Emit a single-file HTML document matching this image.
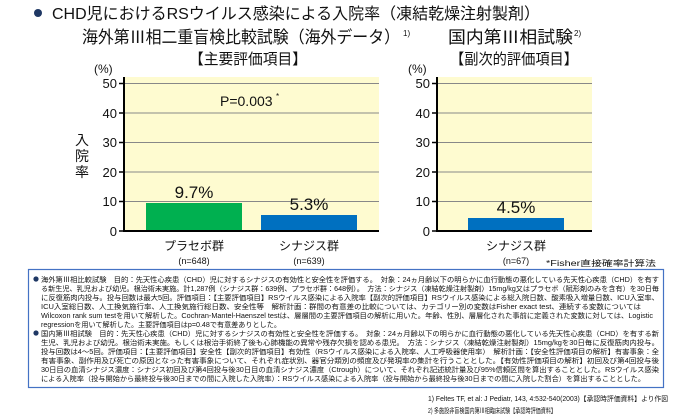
<!DOCTYPE html>
<html><head><meta charset="utf-8"><style>
html,body{margin:0;padding:0;background:#fff;width:685px;height:416px;overflow:hidden}
svg{display:block}
text{font-family:"Liberation Sans","Noto Sans CJK JP",sans-serif;fill:#111}
</style></head><body>
<svg width="685" height="416" viewBox="0 0 685 416">
<circle cx="38" cy="13" r="4" fill="#1f3864"/>
<text x="52" y="19" font-size="16" textLength="488" lengthAdjust="spacingAndGlyphs">CHD児におけるRSウイルス感染による入院率（凍結乾燥注射製剤）</text>
<text x="82" y="43" font-size="17" textLength="318" lengthAdjust="spacingAndGlyphs">海外第Ⅲ相二重盲検比較試験（海外データ）</text>
<text x="403" y="36" font-size="8">1)</text>
<text x="448" y="43" font-size="17" textLength="125" lengthAdjust="spacingAndGlyphs">国内第Ⅲ相試験</text>
<text x="574" y="36" font-size="8">2)</text>
<text x="189" y="64" font-size="15" textLength="118" lengthAdjust="spacingAndGlyphs">【主要評価項目】</text>
<text x="450" y="64" font-size="15" textLength="128" lengthAdjust="spacingAndGlyphs">【副次的評価項目】</text>
<text x="94" y="73" font-size="12">(%)</text>
<text x="408" y="73" font-size="12">(%)</text>
<!-- left chart -->
<rect x="124" y="77" width="255" height="154" fill="#fefbd0"/>
<g stroke="#888" stroke-width="1">
<line x1="124" x2="379" y1="83.5" y2="83.5"/><line x1="124" x2="379" y1="113" y2="113"/>
<line x1="124" x2="379" y1="142.5" y2="142.5"/><line x1="124" x2="379" y1="172" y2="172"/>
<line x1="124" x2="379" y1="201.5" y2="201.5"/>
</g>
<rect x="146" y="203" width="96" height="28" fill="#00b050"/>
<rect x="261" y="215" width="96" height="16" fill="#0070c0"/>
<line x1="124" y1="231" x2="379" y2="231" stroke="#000" stroke-width="2"/>
<line x1="124" y1="77" x2="124" y2="232" stroke="#000" stroke-width="2"/>
<g stroke="#000" stroke-width="1.5"><line x1="119" x2="124" y1="83.5" y2="83.5"/><line x1="119" x2="124" y1="113" y2="113"/><line x1="119" x2="124" y1="142.5" y2="142.5"/><line x1="119" x2="124" y1="172" y2="172"/><line x1="119" x2="124" y1="201.5" y2="201.5"/><line x1="119" x2="124" y1="231" y2="231"/></g>
<g font-size="13" text-anchor="end">
<text x="117" y="88">50</text><text x="117" y="118">40</text><text x="117" y="147">30</text><text x="117" y="177">20</text><text x="117" y="206">10</text><text x="117" y="236">0</text>
</g>
<g font-size="14" text-anchor="middle"><text x="82" y="145">入</text><text x="82" y="161">院</text><text x="82" y="177">率</text></g>
<text x="220" y="106" font-size="14">P=0.003</text><text x="276" y="99" font-size="8">*</text>
<text x="194" y="198" font-size="17" text-anchor="middle">9.7%</text>
<text x="309" y="210" font-size="17" text-anchor="middle">5.3%</text>
<!-- right chart -->
<rect x="437" y="77" width="155" height="154" fill="#fefbd0"/>
<g stroke="#888" stroke-width="1">
<line x1="437" x2="592" y1="83.5" y2="83.5"/><line x1="437" x2="592" y1="113" y2="113"/>
<line x1="437" x2="592" y1="142.5" y2="142.5"/><line x1="437" x2="592" y1="172" y2="172"/>
<line x1="437" x2="592" y1="201.5" y2="201.5"/>
</g>
<rect x="468" y="218" width="96" height="13" fill="#0070c0"/>
<line x1="437" y1="231" x2="592" y2="231" stroke="#000" stroke-width="2"/>
<line x1="437" y1="77" x2="437" y2="232" stroke="#000" stroke-width="2"/>
<g stroke="#000" stroke-width="1.5"><line x1="432" x2="437" y1="83.5" y2="83.5"/><line x1="432" x2="437" y1="113" y2="113"/><line x1="432" x2="437" y1="142.5" y2="142.5"/><line x1="432" x2="437" y1="172" y2="172"/><line x1="432" x2="437" y1="201.5" y2="201.5"/><line x1="432" x2="437" y1="231" y2="231"/></g>
<g font-size="13" text-anchor="end">
<text x="430" y="88">50</text><text x="430" y="118">40</text><text x="430" y="147">30</text><text x="430" y="177">20</text><text x="430" y="206">10</text><text x="430" y="236">0</text>
</g>
<text x="516" y="213" font-size="17" text-anchor="middle">4.5%</text>
<!-- categories -->
<g font-size="12" text-anchor="middle">
<text x="194" y="250">プラセボ群</text><text x="309" y="250">シナジス群</text><text x="516" y="250">シナジス群</text>
</g>
<g font-size="9" text-anchor="middle"><text x="194" y="264">(n=648)</text><text x="309" y="264">(n=639)</text><text x="516" y="264">(n=67)</text></g>
<text x="546" y="266" font-size="8" textLength="110" lengthAdjust="spacingAndGlyphs">*Fisher直接確率計算法</text>
<!-- box -->
<rect x="28.5" y="269.5" width="635" height="118" fill="none" stroke="#4472c4" stroke-width="1.2"/>
<g font-size="7">
<circle cx="36" cy="279" r="2.6" fill="#1f3864"/>
<text x="41" y="282" textLength="618" lengthAdjust="spacingAndGlyphs">海外第Ⅲ相比較試験　目的：先天性心疾患（CHD）児に対するシナジスの有効性と安全性を評価する。　対象：24ヵ月齢以下の明らかに血行動態の悪化している先天性心疾患（CHD）を有す</text>
<text x="41" y="291" textLength="618" lengthAdjust="spacingAndGlyphs">る新生児、乳児および幼児。根治術未実施。計1,287例（シナジス群：639例、プラセボ群：648例）。　方法：シナジス（凍結乾燥注射製剤）15mg/kg又はプラセボ（賦形剤のみを含有）を30日毎</text>
<text x="41" y="300" textLength="618" lengthAdjust="spacingAndGlyphs">に反復筋肉内投与。投与回数は最大5回。評価項目：【主要評価項目】RSウイルス感染による入院率【副次的評価項目】RSウイルス感染による総入院日数、酸素吸入増量日数、ICU入室率、</text>
<text x="41" y="309" textLength="600" lengthAdjust="spacingAndGlyphs">ICU入室総日数、人工換気施行率、人工換気施行総日数、安全性等　解析計画：群間の有意差の比較については、カテゴリー別の変数はFisher exact test、連続する変数については</text>
<text x="41" y="318" textLength="612" lengthAdjust="spacingAndGlyphs">Wilcoxon rank sum testを用いて解析した。Cochran-Mantel-Haenszel testは、層層間の主要評価項目の解析に用いた。年齢、性別、層層化された事前に定義された変数に対しては、Logistic</text>
<text x="41" y="327" textLength="240" lengthAdjust="spacingAndGlyphs">regressionを用いて解析した。主要評価項目はp=0.48で有意差ありとした。</text>
<circle cx="36" cy="333" r="2.6" fill="#1f3864"/>
<text x="41" y="336" textLength="618" lengthAdjust="spacingAndGlyphs">国内第Ⅲ相試験　目的：先天性心疾患（CHD）児に対するシナジスの有効性と安全性を評価する。　対象：24ヵ月齢以下の明らかに血行動態の悪化している先天性心疾患（CHD）を有する新</text>
<text x="41" y="345" textLength="618" lengthAdjust="spacingAndGlyphs">生児、乳児および幼児。根治術未実施。もしくは根治手術終了後も心肺機能の異常や残存欠損を認める患児。　方法：シナジス（凍結乾燥注射製剤）15mg/kgを30日毎に反復筋肉内投与。</text>
<text x="41" y="354" textLength="618" lengthAdjust="spacingAndGlyphs">投与回数は4～5回。評価項目：【主要評価項目】安全性【副次的評価項目】有効性（RSウイルス感染による入院率、人工呼吸器使用率）　解析計画：【安全性評価項目の解析】有害事象：全</text>
<text x="41" y="363" textLength="618" lengthAdjust="spacingAndGlyphs">有害事象、副作用及び死亡の原因となった有害事象について、それぞれ症状別、器官分類別の頻度及び発現率の集計を行うこととした。【有効性評価項目の解析】初回及び第4回投与後</text>
<text x="41" y="372" textLength="618" lengthAdjust="spacingAndGlyphs">30日目の血清シナジス濃度：シナジス初回及び第4回投与後30日目の血清シナジス濃度（Ctrough）について、それぞれ記述統計量及び95%信頼区間を算出することとした。RSウイルス感染</text>
<text x="41" y="381" textLength="604" lengthAdjust="spacingAndGlyphs">による入院率（投与開始から最終投与後30日までの間に入院した入院率）：RSウイルス感染による入院率（投与開始から最終投与後30日までの間に入院した割合）を算出することとした。</text>
</g>
<g font-size="7" fill="#333">
<text x="428" y="401" textLength="240" lengthAdjust="spacingAndGlyphs">1) Feltes TF, et al: J Pediatr, 143, 4:532-540(2003)【承認時評価資料】より作図</text>
<text x="428" y="413" textLength="128" lengthAdjust="spacingAndGlyphs">2) 多施設非盲検国内第Ⅲ相臨床試験【承認時評価資料】</text>
</g>
</svg>
</body></html>
